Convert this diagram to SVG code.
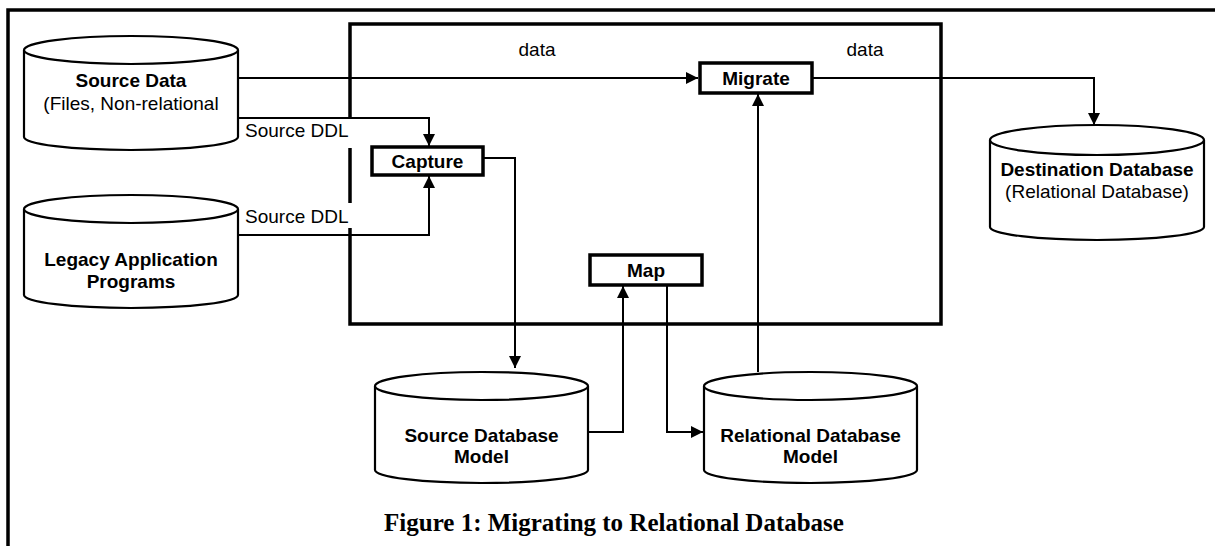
<svg xmlns="http://www.w3.org/2000/svg" width="1215" height="546" viewBox="0 0 1215 546">
<defs>
<style>
.frame{fill:none;stroke:#000;stroke-width:3.5}
.cyl{fill:#fff;stroke:#000;stroke-width:2.2}
.box{fill:#fff;stroke:#000;stroke-width:3.5}
.conn{fill:none;stroke:#000;stroke-width:2}
.b{font-family:"Liberation Sans",Arial,sans-serif;font-weight:bold;font-size:19px;text-anchor:middle;fill:#000}
.r{font-family:"Liberation Sans",Arial,sans-serif;font-size:19px;text-anchor:middle;fill:#000}
.lab{font-family:"Liberation Sans",Arial,sans-serif;font-size:19px;fill:#000}
.cap{font-family:"Liberation Serif","Times New Roman",serif;font-weight:bold;font-size:25px;text-anchor:middle;fill:#000}
</style>
<marker id="ah" viewBox="0 0 12 12" refX="12" refY="6" markerWidth="12" markerHeight="12" markerUnits="userSpaceOnUse" orient="auto">
<path d="M0,0 L12,6 L0,12 Z" fill="#000"/>
</marker>
</defs>
<rect width="1215" height="546" fill="#fff"/>
<g id="outer-frame">
<path class="frame" d="M8,546 L8,10 L1215,10"/>
</g>
<g id="inner-box">
<path class="frame" d="M350,119 L350,24 L941,24 L941,324 L350,324 L350,228"/>
<path class="frame" d="M350,148 L350,203"/>
</g>
<g id="connectors">
<path class="conn" d="M238,78 L698,78" marker-end="url(#ah)"/>
<path class="conn" d="M812,78 L1094,78 L1094,125" marker-end="url(#ah)"/>
<path class="conn" d="M238,118 L429,118 L429,146" marker-end="url(#ah)"/>
<path class="conn" d="M238,235 L429,235 L429,176" marker-end="url(#ah)"/>
<path class="conn" d="M483,158 L515,158 L515,368" marker-end="url(#ah)"/>
<path class="conn" d="M588,432 L623,432 L623,286" marker-end="url(#ah)"/>
<path class="conn" d="M667,285 L667,432 L703,432" marker-end="url(#ah)"/>
<path class="conn" d="M758,372 L758,94" marker-end="url(#ah)"/>
<text class="r" x="537" y="56">data</text>
<text class="r" x="865" y="56">data</text>
<text class="lab" x="245" y="137">Source DDL</text>
<text class="lab" x="245" y="223">Source DDL</text>
</g>
<g id="source-data">
<path class="cyl" d="M24,50 L24,137 A107,13 0 0 0 238,137 L238,50"/>
<ellipse class="cyl" cx="131" cy="50" rx="107" ry="14"/>
<text class="b" x="131" y="87">Source Data</text>
<text class="r" x="131" y="110">(Files, Non-relational</text>
</g>
<g id="legacy-apps">
<path class="cyl" d="M24,209 L24,295 A107,13 0 0 0 238,295 L238,209"/>
<ellipse class="cyl" cx="131" cy="209" rx="107" ry="14"/>
<text class="b" x="131" y="266">Legacy Application</text>
<text class="b" x="131" y="288">Programs</text>
</g>
<g id="destination-db">
<path class="cyl" d="M990,140 L990,227 A107,13 0 0 0 1204,227 L1204,140"/>
<ellipse class="cyl" cx="1097" cy="140" rx="107" ry="15"/>
<text class="b" x="1097" y="176">Destination Database</text>
<text class="r" x="1097" y="198">(Relational Database)</text>
</g>
<g id="source-db-model">
<path class="cyl" d="M375,386 L375,470 A106.5,13 0 0 0 588,470 L588,386"/>
<ellipse class="cyl" cx="481.5" cy="386" rx="106.5" ry="14"/>
<text class="b" x="481.5" y="442">Source Database</text>
<text class="b" x="481.5" y="463">Model</text>
</g>
<g id="relational-db-model">
<path class="cyl" d="M704,386 L704,470 A106.5,13 0 0 0 917,470 L917,386"/>
<ellipse class="cyl" cx="810.5" cy="386" rx="106.5" ry="14"/>
<text class="b" x="810.5" y="442">Relational Database</text>
<text class="b" x="810.5" y="463">Model</text>
</g>
<g id="migrate">
<rect class="box" x="700" y="63" width="112" height="30"/>
<text class="b" x="756" y="85">Migrate</text>
</g>
<g id="capture">
<rect class="box" x="372" y="147" width="111" height="28"/>
<text class="b" x="427.5" y="168">Capture</text>
</g>
<g id="map">
<rect class="box" x="590" y="255" width="112" height="30"/>
<text class="b" x="646" y="277">Map</text>
</g>
<g id="caption">
<text class="cap" x="614" y="531">Figure 1: Migrating to Relational Database</text>
</g>
</svg>
